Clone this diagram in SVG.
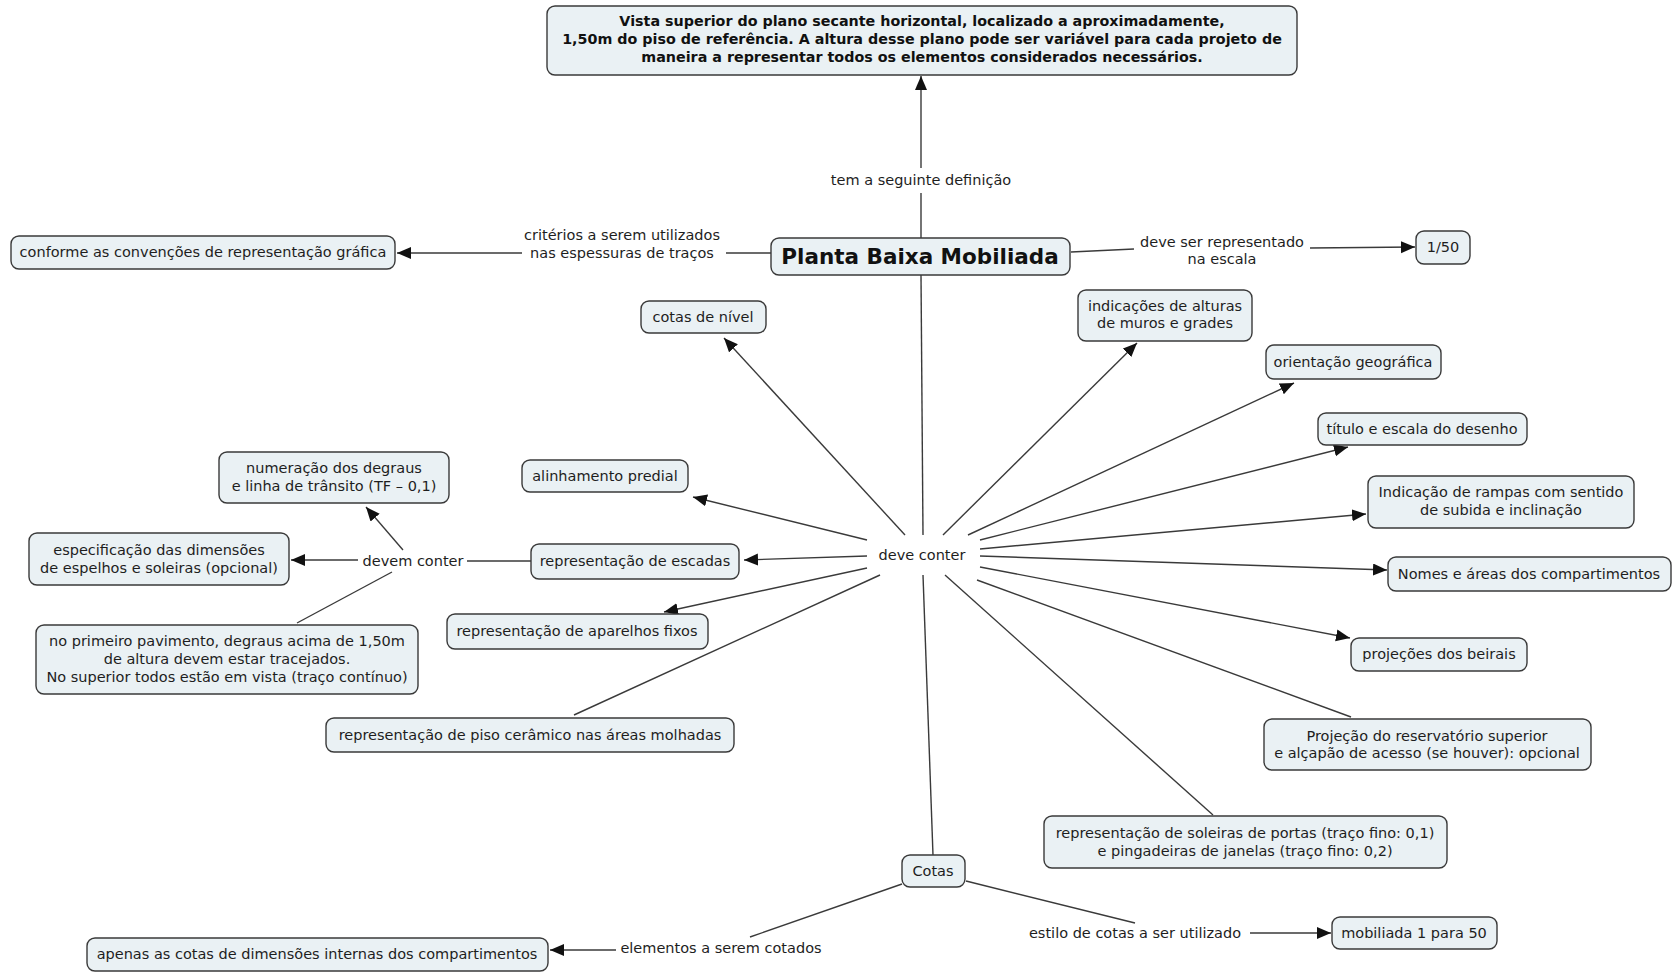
<svg xmlns="http://www.w3.org/2000/svg" width="1672" height="972" viewBox="0 0 1672 972">
  <style>
    .box { fill: #eaf1f4; stroke: #3a3a3a; stroke-width: 1.4; }
    .t { font-family: "DejaVu Sans", Verdana, sans-serif; font-size: 14.5px; fill: #1e1e1e; text-anchor: middle; }
    .tb { font-family: "DejaVu Sans", Verdana, sans-serif; font-size: 14.3px; font-weight: bold; fill: #111; text-anchor: middle; }
    .title { font-family: "DejaVu Sans", Verdana, sans-serif; font-size: 21.5px; font-weight: bold; fill: #111; text-anchor: middle; }
    .ln { fill: none; stroke: #3a3a3a; stroke-width: 1.4; }
    .arr { fill: none; stroke: #3a3a3a; stroke-width: 1.4; marker-end: url(#head); }
  </style>
  <defs>
    <marker id="head" markerUnits="userSpaceOnUse" markerWidth="15" markerHeight="13" refX="14" refY="6" orient="auto">
      <path d="M0,0 L14,6 L0,12 z" fill="#111"/>
    </marker>
  </defs>
  <rect width="1672" height="972" fill="#ffffff"/>

  <!-- connectors -->
  <g id="connectors">
    <!-- main concept up to definition -->
    <line class="ln" x1="921" y1="238" x2="921" y2="193"/>
    <line class="arr" x1="921" y1="168" x2="921" y2="76"/>
    <!-- line weights -->
    <line class="ln" x1="771" y1="253" x2="726" y2="253"/>
    <line class="arr" x1="522" y1="253" x2="397" y2="253"/>
    <!-- scale -->
    <line class="ln" x1="1071" y1="252" x2="1134" y2="249"/>
    <line class="arr" x1="1310" y1="248" x2="1415" y2="247"/>
    <!-- main concept down to hub -->
    <line class="ln" x1="921" y1="275" x2="923" y2="535"/>
    <!-- hub spokes -->
    <line class="arr" x1="905" y1="535" x2="724" y2="338"/>
    <line class="arr" x1="943" y1="535" x2="1137" y2="343"/>
    <line class="arr" x1="968" y1="535" x2="1294" y2="383"/>
    <line class="arr" x1="980" y1="540" x2="1348" y2="447"/>
    <line class="arr" x1="980" y1="549" x2="1366" y2="514"/>
    <line class="arr" x1="980" y1="556" x2="1387" y2="570"/>
    <line class="arr" x1="980" y1="567" x2="1350" y2="638"/>
    <line class="ln" x1="977" y1="580" x2="1351" y2="717"/>
    <line class="ln" x1="945" y1="575" x2="1213" y2="815"/>
    <line class="arr" x1="867" y1="540" x2="693" y2="497"/>
    <line class="arr" x1="867" y1="556" x2="744" y2="560"/>
    <line class="arr" x1="867" y1="568" x2="664" y2="612"/>
    <line class="ln" x1="880" y1="575" x2="574" y2="715"/>
    <line class="ln" x1="923" y1="575" x2="933" y2="855"/>
    <!-- stairs -->
    <line class="ln" x1="531" y1="561" x2="467" y2="561"/>
    <line class="arr" x1="358" y1="560" x2="291" y2="560"/>
    <line class="arr" x1="403" y1="550" x2="366" y2="507"/>
    <line class="ln" x1="392" y1="572" x2="297" y2="623"/>
    <!-- dimensions -->
    <line class="ln" x1="902" y1="884" x2="750" y2="937"/>
    <line class="arr" x1="616" y1="950" x2="550" y2="950"/>
    <line class="ln" x1="966" y1="881" x2="1135" y2="923"/>
    <line class="arr" x1="1250" y1="933" x2="1331" y2="933"/>
  </g>

  <!-- linking phrases -->
  <g id="labels">
    <text class="t" x="622" y="240">critérios a serem utilizados</text>
    <text class="t" x="622" y="258">nas espessuras de traços</text>
    <text class="t" x="921" y="185">tem a seguinte definição</text>
    <text class="t" x="1222" y="247">deve ser representado</text>
    <text class="t" x="1222" y="264">na escala</text>
    <text class="t" x="922" y="560">deve conter</text>
    <text class="t" x="413" y="566">devem conter</text>
    <text class="t" x="721" y="953">elementos a serem cotados</text>
    <text class="t" x="1135" y="938">estilo de cotas a ser utilizado</text>
  </g>

  <g id="n-definicao">
    <rect class="box" x="547" y="6" width="750" height="69" rx="8"/>
    <text class="tb" x="922" y="26">Vista superior do plano secante horizontal, localizado a aproximadamente,</text>
    <text class="tb" x="922" y="44">1,50m do piso de referência. A altura desse plano pode ser variável para cada projeto de</text>
    <text class="tb" x="922" y="62">maneira a representar todos os elementos considerados necessários.</text>
  </g>
  <g id="n-planta">
    <rect class="box" x="771" y="238" width="299" height="37" rx="8"/>
    <text class="title" x="920" y="264">Planta Baixa Mobiliada</text>
  </g>
  <g id="n-convencoes">
    <rect class="box" x="11" y="236" width="384" height="33" rx="8"/>
    <text class="t" x="203" y="257">conforme as convenções de representação gráfica</text>
  </g>
  <g id="n-escala">
    <rect class="box" x="1416" y="231" width="54" height="33" rx="8"/>
    <text class="t" x="1443" y="252">1/50</text>
  </g>
  <g id="n-cotas-nivel">
    <rect class="box" x="641" y="301" width="125" height="32" rx="8"/>
    <text class="t" x="703" y="322">cotas de nível</text>
  </g>
  <g id="n-muros">
    <rect class="box" x="1078" y="290" width="174" height="51" rx="8"/>
    <text class="t" x="1165" y="311">indicações de alturas</text>
    <text class="t" x="1165" y="328">de muros e grades</text>
  </g>
  <g id="n-orientacao">
    <rect class="box" x="1266" y="345" width="175" height="34" rx="8"/>
    <text class="t" x="1353" y="367">orientação geográfica</text>
  </g>
  <g id="n-titulo">
    <rect class="box" x="1318" y="413" width="209" height="32" rx="8"/>
    <text class="t" x="1422" y="434">título e escala do desenho</text>
  </g>
  <g id="n-rampas">
    <rect class="box" x="1368" y="476" width="266" height="52" rx="8"/>
    <text class="t" x="1501" y="497">Indicação de rampas com sentido</text>
    <text class="t" x="1501" y="515">de subida e inclinação</text>
  </g>
  <g id="n-compartimentos">
    <rect class="box" x="1388" y="557" width="283" height="34" rx="8"/>
    <text class="t" x="1529" y="579">Nomes e áreas dos compartimentos</text>
  </g>
  <g id="n-beirais">
    <rect class="box" x="1351" y="638" width="176" height="33" rx="8"/>
    <text class="t" x="1439" y="659">projeções dos beirais</text>
  </g>
  <g id="n-reservatorio">
    <rect class="box" x="1264" y="719" width="327" height="51" rx="8"/>
    <text class="t" x="1427" y="741">Projeção do reservatório superior</text>
    <text class="t" x="1427" y="758">e alçapão de acesso (se houver): opcional</text>
  </g>
  <g id="n-soleiras">
    <rect class="box" x="1044" y="816" width="403" height="52" rx="8"/>
    <text class="t" x="1245" y="838">representação de soleiras de portas (traço fino: 0,1)</text>
    <text class="t" x="1245" y="856">e pingadeiras de janelas (traço fino: 0,2)</text>
  </g>
  <g id="n-alinhamento">
    <rect class="box" x="522" y="460" width="166" height="32" rx="8"/>
    <text class="t" x="605" y="481">alinhamento predial</text>
  </g>
  <g id="n-escadas">
    <rect class="box" x="531" y="544" width="208" height="35" rx="8"/>
    <text class="t" x="635" y="566">representação de escadas</text>
  </g>
  <g id="n-aparelhos">
    <rect class="box" x="447" y="614" width="261" height="35" rx="8"/>
    <text class="t" x="577" y="636">representação de aparelhos fixos</text>
  </g>
  <g id="n-piso">
    <rect class="box" x="326" y="718" width="408" height="34" rx="8"/>
    <text class="t" x="530" y="740">representação de piso cerâmico nas áreas molhadas</text>
  </g>
  <g id="n-degraus">
    <rect class="box" x="219" y="452" width="230" height="51" rx="8"/>
    <text class="t" x="334" y="473">numeração dos degraus</text>
    <text class="t" x="334" y="491">e linha de trânsito (TF – 0,1)</text>
  </g>
  <g id="n-espelhos">
    <rect class="box" x="29" y="533" width="260" height="52" rx="8"/>
    <text class="t" x="159" y="555">especificação das dimensões</text>
    <text class="t" x="159" y="573">de espelhos e soleiras (opcional)</text>
  </g>
  <g id="n-pavimento">
    <rect class="box" x="36" y="625" width="382" height="69" rx="8"/>
    <text class="t" x="227" y="646">no primeiro pavimento, degraus acima de 1,50m</text>
    <text class="t" x="227" y="664">de altura devem estar tracejados.</text>
    <text class="t" x="227" y="682">No superior todos estão em vista (traço contínuo)</text>
  </g>
  <g id="n-cotas">
    <rect class="box" x="902" y="855" width="63" height="32" rx="8"/>
    <text class="t" x="933" y="876">Cotas</text>
  </g>
  <g id="n-internas">
    <rect class="box" x="87" y="938" width="461" height="33" rx="8"/>
    <text class="t" x="317" y="959">apenas as cotas de dimensões internas dos compartimentos</text>
  </g>
  <g id="n-mobiliada">
    <rect class="box" x="1332" y="917" width="165" height="32" rx="8"/>
    <text class="t" x="1414" y="938">mobiliada 1 para 50</text>
  </g>
</svg>
